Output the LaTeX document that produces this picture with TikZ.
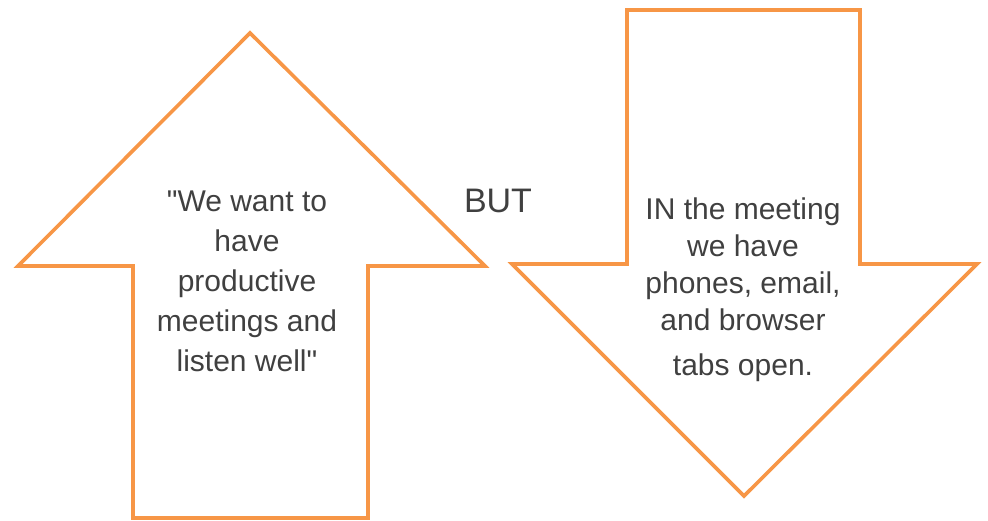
\documentclass[tikz,border=0pt]{standalone}
\usepackage{fontspec}
\setmainfont{Liberation Sans}
\usepackage{tikz}
\definecolor{arroworange}{HTML}{F79646}
\definecolor{textgray}{HTML}{404040}
\tikzset{
    arrowline/.style={draw=arroworange, line width=3.6pt},
    bodytext/.style={text=textgray, align=center, inner sep=0pt, anchor=north,
        font=\fontsize{30}{40}\selectfont}
}

\begin{document}
\begin{tikzpicture}[x=1pt, y=-1pt]
    \useasboundingbox (0,0) rectangle (988,520);

    % Up arrow
    \draw[arrowline] (250,33) -- (485,266) -- (368,266) -- (368,518)
        -- (133,518) -- (133,266) -- (18,266) -- cycle;

    % Down arrow
    \draw[arrowline] (627,10) -- (860,10) -- (860,264) -- (977,264)
        -- (744,496) -- (512,264) -- (627,264) -- cycle;

    % Texts
    \node[bodytext] (goal) at (247,191)
        {\textquotedbl We want to\\have\\productive\\meetings and\\listen well\textquotedbl};
    \node[text=textgray, inner sep=0pt, anchor=base,
        font=\fontsize{34}{40}\selectfont] (but) at (498,212) {BUT};
    \node[bodytext, font=\fontsize{30}{37}\selectfont] (reality) at (743,198)
        {IN the meeting\\we have\\phones, email,\\and browser\\[8pt]tabs open.};

\end{tikzpicture}
\end{document}
